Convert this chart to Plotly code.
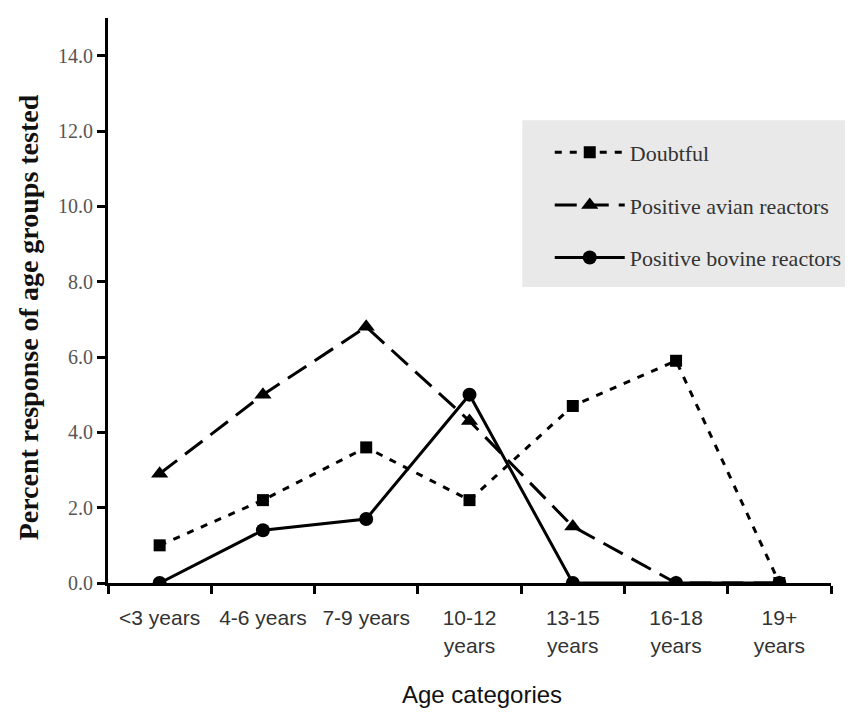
import plotly.graph_objects as go

categories = ["<3 years", "4-6 years", "7-9 years", "10-12<br>years", "13-15<br>years", "16-18<br>years", "19+<br>years"]
doubtful = [1.0, 2.2, 3.6, 2.2, 4.7, 5.9, 0.0]
avian = [2.9, 5.0, 6.8, 4.3, 1.5, 0.0, 0.0]
bovine = [0.0, 1.4, 1.7, 5.0, 0.0, 0.0, 0.0]
y_ticks = [0, 2, 4, 6, 8, 10, 12, 14]
y_ticklabels = ["0.0", "2.0", "4.0", "6.0", "8.0", "10.0", "12.0", "14.0"]

fig = go.Figure()
fig.add_trace(go.Scatter(x=categories, y=doubtful, name="Doubtful", mode="lines+markers",
                         legendgroup="a",
                         line=dict(color="black", width=3, dash="7px,8px"),
                         marker=dict(symbol="square", size=12, color="black")))
fig.add_trace(go.Scatter(x=categories, y=avian, name="Positive avian reactors", mode="lines+markers",
                         legendgroup="b",
                         line=dict(color="black", width=3, dash="22px,10px"),
                         marker=dict(symbol="triangle-up", size=15, color="black")))
fig.add_trace(go.Scatter(x=categories, y=bovine, name="Positive bovine reactors", mode="lines+markers",
                         legendgroup="c",
                         line=dict(color="black", width=3),
                         marker=dict(symbol="circle", size=14, color="black")))

fig.update_layout(
    width=845, height=705,
    margin=dict(l=100, r=22, t=10, b=130, autoexpand=False),
    plot_bgcolor="white", paper_bgcolor="white",
    showlegend=True,
    legend=dict(x=0.611, y=0.799, xanchor="left", yanchor="top",
                bgcolor="rgba(0,0,0,0)", borderwidth=0,
                font=dict(family="Liberation Serif", size=22, color="#333333"),
                itemwidth=70, tracegroupgap=21,
                traceorder="grouped"),
    shapes=[dict(type="rect", xref="paper", yref="paper",
                 x0=0.573, x1=1.04, y0=0.524, y1=0.819,
                 fillcolor="#e9e9e9", line=dict(width=0), layer="below")],
    xaxis=dict(type="category", range=[-0.5, 6.5], tickson="boundaries",
               showline=True, linecolor="black", linewidth=3,
               ticks="outside", ticklen=8, tickwidth=3, tickcolor="black",
               showgrid=False, zeroline=False, ticklabelstandoff=14, tickangle=0,
               automargin=False,
               tickfont=dict(family="Liberation Sans", size=21, color="#333333")),
    yaxis=dict(range=[0, 15], tickvals=y_ticks, ticktext=y_ticklabels,
               showline=True, linecolor="black", linewidth=3,
               ticks="outside", ticklen=8, tickwidth=3, tickcolor="black",
               showgrid=False, zeroline=False, automargin=False,
               tickfont=dict(family="Liberation Serif", size=20, color="#555555")),
    annotations=[
        dict(text="Age categories", xref="paper", yref="paper", x=0.517, y=-0.198,
             showarrow=False, xanchor="center", yanchor="middle",
             font=dict(family="Liberation Sans", size=24, color="#111111")),
        dict(text="<b>Percent response of age groups tested</b>", xref="paper", yref="paper",
             x=-0.11, y=0.471, textangle=-90, showarrow=False,
             xanchor="center", yanchor="middle",
             font=dict(family="Liberation Serif", size=28, color="#111111")),
    ],
)

fig.write_html("out.html")
